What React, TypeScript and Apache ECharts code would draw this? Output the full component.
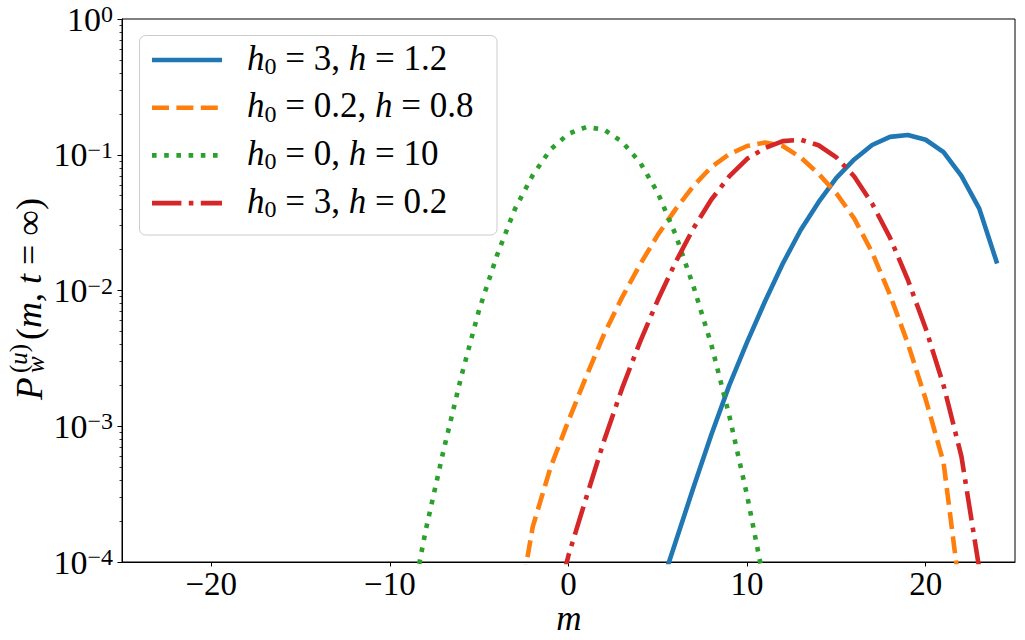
import React, { useEffect, useRef } from "react";
import * as echarts from "echarts";

const FONT = '"Liberation Serif", "DejaVu Serif", serif';

// axis ticks
const xTicks = [-20, -10, 0, 10, 20];
const yTicks = [1e-4, 1e-3, 1e-2, 1e-1, 1];
const yMinorTicks = [
  2e-4, 3e-4, 4e-4, 5e-4, 6e-4, 7e-4, 8e-4, 9e-4,
  2e-3, 3e-3, 4e-3, 5e-3, 6e-3, 7e-3, 8e-3, 9e-3,
  2e-2, 3e-2, 4e-2, 5e-2, 6e-2, 7e-2, 8e-2, 9e-2,
  2e-1, 3e-1, 4e-1, 5e-1, 6e-1, 7e-1, 8e-1, 9e-1,
];

// series: h0 = 3, h = 1.2 (blue, solid)
const mBlue = [5, 6, 7, 8, 9, 10, 11, 12, 13, 14, 15, 16, 17, 18, 19, 20, 21, 22, 23, 24];
const pBlue = [
  5.6e-5, 1.41e-4, 3.55e-4, 8.7e-4, 2.0e-3, 4.17e-3, 8.3e-3, 0.0158, 0.0279, 0.0447,
  0.0676, 0.0923, 0.118, 0.1355, 0.14, 0.129, 0.1047, 0.07, 0.0401, 0.0158,
];

// h0 = 0.2, h = 0.8 (orange, dashed)
const mOrange = [-3, -2, -1, 0, 1, 2, 3, 4, 5, 6, 7, 8, 9, 10, 11, 12, 13, 14, 15, 16, 17, 18, 19, 20, 21, 22];
const pOrange = [
  3.2e-5, 1.82e-4, 5.0e-4, 1.1e-3, 2.34e-3, 4.79e-3, 8.9e-3, 0.0155, 0.0257, 0.0398,
  0.0589, 0.0813, 0.101, 0.116, 0.123, 0.116, 0.0955, 0.0724, 0.0519, 0.0339,
  0.0191, 9.3e-3, 4.07e-3, 1.58e-3, 5.4e-4, 4.9e-5,
];

// h0 = 0, h = 10 (green, dotted)
const mGreen = [-9, -8, -7, -6, -5, -4, -3, -2, -1, 0, 1, 2, 3, 4, 5, 6, 7, 8, 9, 10, 11];
const pGreen = [
  3.5e-5, 1.7e-4, 6.6e-4, 2.34e-3, 7.24e-3, 0.0182, 0.0398, 0.0708, 0.1096, 0.143,
  0.16, 0.153, 0.1245, 0.0881, 0.0525, 0.0257, 0.0107, 3.98e-3, 1.2e-3, 3.09e-4, 6.6e-5,
];

// h0 = 3, h = 0.2 (red, dash-dot)
const mRed = [-1, 0, 1, 2, 3, 4, 5, 6, 7, 8, 9, 10, 11, 12, 13, 14, 15, 16, 17, 18, 19, 20, 21, 22, 23];
const pRed = [
  3.2e-5, 1.12e-4, 3.0e-4, 7.9e-4, 1.9e-3, 4.17e-3, 8.5e-3, 0.0162, 0.0288, 0.0468,
  0.0692, 0.0933, 0.112, 0.126, 0.129, 0.1175, 0.0955, 0.0692, 0.0437, 0.0245,
  0.012, 5.25e-3, 2.0e-3, 6.0e-4, 8.9e-5,
];

const legendH0 = ["3", "0.2", "0", "3"];
const legendH = ["1.2", "0.8", "10", "0.2"];

const LW = 4.6;
const COLORS = ["#1f77b4", "#ff7f0e", "#2ca02c", "#d62728"];
const DASHES: (number[] | null)[] = [
  null,
  [17, 7.4],
  [4.6, 7.6],
  [29.4, 7.4, 4.6, 7.4],
];

const seriesData = [
  mBlue.map((m, i) => [m, pBlue[i]]),
  mOrange.map((m, i) => [m, pOrange[i]]),
  mGreen.map((m, i) => [m, pGreen[i]]),
  mRed.map((m, i) => [m, pRed[i]]),
];

const minus = (s: string) => s.replace("-", "\u2212");

export default function App() {
  const ref = useRef<HTMLDivElement>(null);

  useEffect(() => {
    if (!ref.current) return;
    const chart = echarts.init(ref.current, undefined, { renderer: "svg" });

    const legendRowY = [60, 107.7, 155.4, 203.1];
    const legendGraphics: any[] = [
      {
        type: "rect",
        z: 100,
        shape: { x: 139.5, y: 35.5, width: 357.5, height: 199.5, r: 6 },
        style: { fill: "rgba(255,255,255,0.8)", stroke: "#cccccc", lineWidth: 1 },
      },
    ];
    legendRowY.forEach((y, i) => {
      legendGraphics.push({
        type: "line",
        z: 101,
        shape: { x1: 152, y1: y, x2: 222, y2: y },
        style: {
          stroke: COLORS[i],
          lineWidth: LW,
          lineDash: DASHES[i] || undefined,
          lineCap: "butt",
        },
      });
      legendGraphics.push({
        type: "text",
        z: 101,
        x: 247,
        y: y - 2,
        style: {
          text: `{i|h}{sub|0}{r| = ${legendH0[i]}, }{i|h}{r| = ${legendH[i]}}`,
          align: "left",
          verticalAlign: "middle",
          fill: "#000",
          rich: {
            i: { fontFamily: FONT, fontStyle: "italic", fontSize: 35, lineHeight: 40, fill: "#000" },
            r: { fontFamily: FONT, fontSize: 35, lineHeight: 40, fill: "#000" },
            sub: { fontFamily: FONT, fontSize: 24, lineHeight: 24, verticalAlign: "bottom", fill: "#000" },
          },
        },
      });
    });

    const yLabel = {
      type: "group",
      x: 29,
      y: 294,
      rotation: Math.PI / 2,
      children: [
        {
          type: "text",
          x: -106,
          y: 0,
          style: {
            text: "P",
            fontFamily: FONT,
            fontStyle: "italic",
            fontSize: 37,
            align: "left",
            verticalAlign: "middle",
            fill: "#000",
          },
        },
        {
          type: "text",
          x: -79,
          y: -11,
          style: {
            text: "{p|(}{i|u}{p|)}",
            rich: {
              p: { fontFamily: FONT, fontSize: 25, fill: "#000" },
              i: { fontFamily: FONT, fontStyle: "italic", fontSize: 25, fill: "#000" },
            },
            align: "left",
            verticalAlign: "middle",
          },
        },
        {
          type: "text",
          x: -79,
          y: 6,
          style: {
            text: "w",
            fontFamily: FONT,
            fontStyle: "italic",
            fontSize: 25,
            align: "left",
            verticalAlign: "middle",
            fill: "#000",
          },
        },
        {
          type: "text",
          x: -46,
          y: 0,
          style: {
            text: "{r|(}{i|m}{r|, }{i|t}{r| = \u221e)}",
            align: "left",
            verticalAlign: "middle",
            rich: {
              r: { fontFamily: FONT, fontSize: 36, fill: "#000" },
              i: { fontFamily: FONT, fontStyle: "italic", fontSize: 36, fill: "#000" },
            },
          },
        },
      ],
    };

    const xName = {
      type: "text",
      x: 569,
      y: 618,
      style: {
        text: "m",
        fontFamily: FONT,
        fontStyle: "italic",
        fontSize: 35,
        lineHeight: 22,
        align: "center",
        verticalAlign: "middle",
        fill: "#000",
      },
    };

    const option: any = {
      animation: false,
      backgroundColor: "#ffffff",
      grid: {
        left: 122,
        top: 19,
        right: 10,
        bottom: 78,
        show: true,
        borderColor: "#000",
        borderWidth: 1,
        backgroundColor: "transparent",
      },
      xAxis: {
        type: "value",
        min: -25,
        max: 25,
        axisLine: { show: true, onZero: false, lineStyle: { color: "#000", width: 1 } },
        axisTick: {
          show: true,
          customValues: xTicks,
          length: 4.5,
          lineStyle: { color: "#000", width: 1 },
        },
        axisLabel: {
          customValues: xTicks,
          formatter: (v: number) => minus(String(v)),
          fontFamily: FONT,
          fontSize: 33,
          lineHeight: 26,
          color: "#000",
          margin: 9,
        },
        splitLine: { show: false },
      },
      yAxis: [
        {
          type: "log",
          logBase: 10,
          min: 1e-4,
          max: 1,
          position: "left",
          axisLine: { show: true, onZero: false, lineStyle: { color: "#000", width: 1 } },
          axisTick: {
            show: true,
            customValues: yTicks,
            length: 4.5,
            lineStyle: { color: "#000", width: 1 },
          },
          axisLabel: {
            customValues: yTicks,
            margin: 9,
            formatter: (v: number) => {
              const e = Math.round(Math.log10(v));
              return `{b|10}{s|${minus(String(e))}}`;
            },
            rich: {
              b: { fontFamily: FONT, fontSize: 34, lineHeight: 34, color: "#000" },
              s: { fontFamily: FONT, fontSize: 24, lineHeight: 24, verticalAlign: "top", color: "#000" },
            },
          },
          splitLine: { show: false },
          minorTick: { show: false },
        },
        {
          type: "log",
          logBase: 10,
          min: 1e-4,
          max: 1,
          position: "left",
          offset: 0,
          axisLine: { show: false, onZero: false },
          axisTick: {
            show: true,
            customValues: yMinorTicks,
            length: 2.5,
            lineStyle: { color: "#000", width: 0.8 },
          },
          axisLabel: { show: false },
          splitLine: { show: false },
        },
      ],
      series: seriesData.map((data, i) => ({
        type: "line",
        data,
        yAxisIndex: 0,
        showSymbol: false,
        symbol: "none",
        clip: true,
        lineStyle: {
          color: COLORS[i],
          width: LW,
          type: DASHES[i] || "solid",
          cap: "butt",
          join: "round",
        },
        emphasis: { disabled: true },
      })),
      graphic: [...legendGraphics, yLabel, xName],
    };

    chart.setOption(option);
    return () => chart.dispose();
  }, []);

  return (
    <div
      ref={ref}
      style={{ position: "absolute", left: 0, top: 0, width: 1025, height: 640, background: "#fff" }}
    />
  );
}
